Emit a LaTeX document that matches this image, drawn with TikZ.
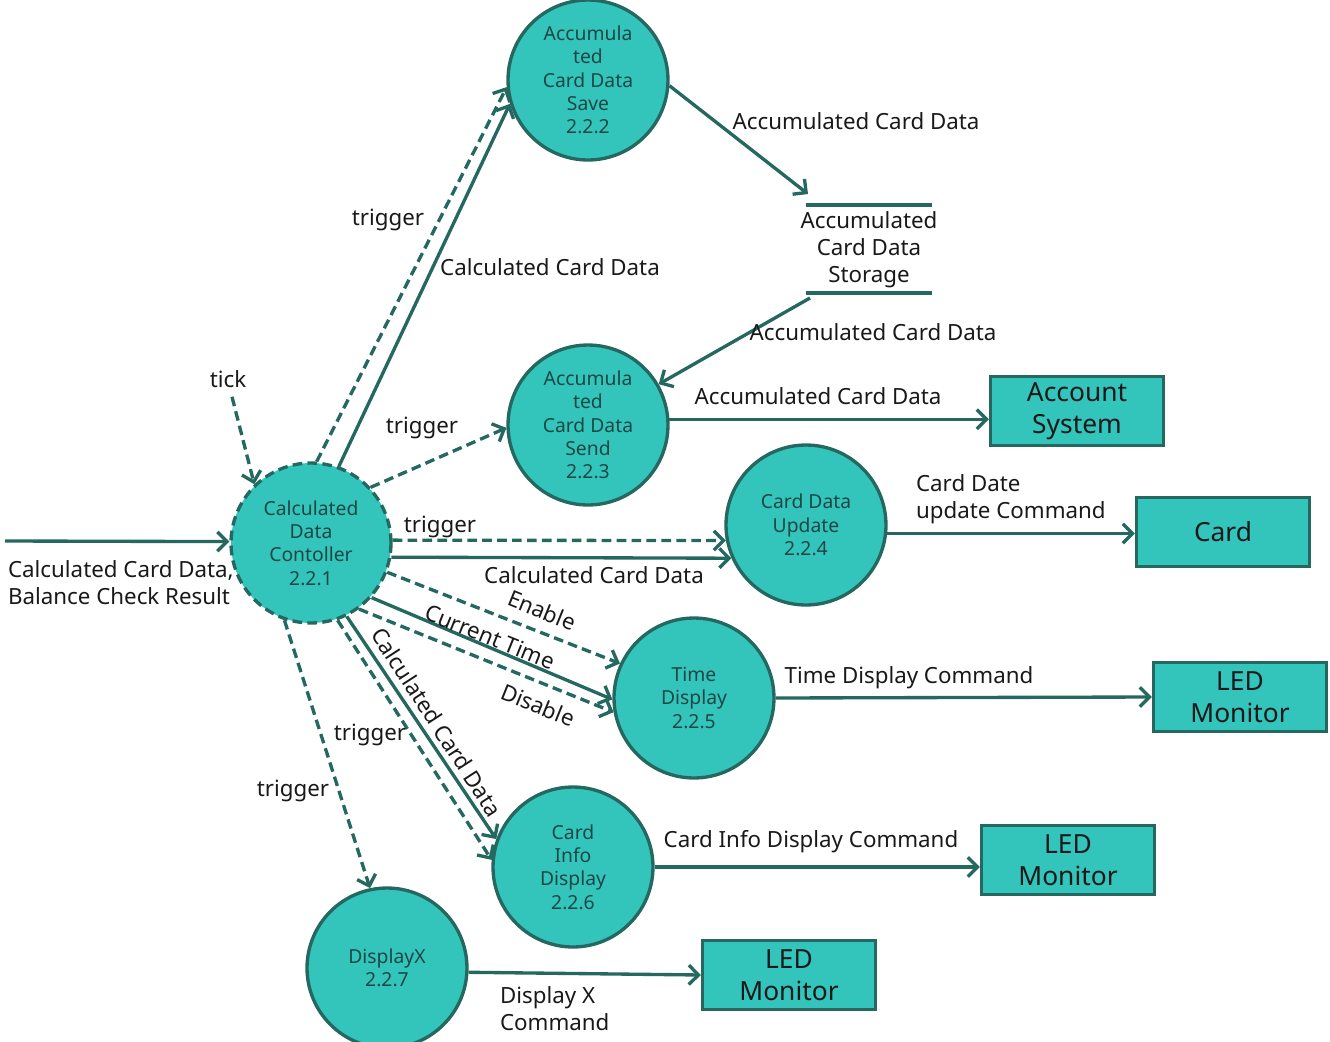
\documentclass[tikz,border=0pt]{standalone}
\usepackage{fontspec}
\setmainfont{Noto Sans}
\usetikzlibrary{arrows.meta}
\definecolor{tealfill}{RGB}{51,196,188}
\definecolor{tealline}{RGB}{36,104,96}
\definecolor{tealtext}{RGB}{28,72,68}
\tikzset{
  proc/.style={circle, draw=tealline, fill=tealfill, line width=1.9pt,
    minimum size=3.2cm, inner sep=0pt, align=center, text=tealtext,
    font=\fontsize{11}{13.3}\selectfont},
  ext/.style={rectangle, draw=tealline, fill=tealfill, line width=1.9pt,
    minimum width=3.46cm, minimum height=1.38cm, align=center, text=black!90,
    font=\fontsize{15}{18}\selectfont},
  lbl/.style={font=\fontsize{12.7}{15.3}\selectfont, inner sep=1pt, text=black!90},
  flow/.style={draw=tealline, line width=1.9pt, -{Straight Barb[length=5.5pt,width=11pt]}},
  trig/.style={flow, dash pattern=on 5.5pt off 3pt},
}
\begin{document}
\begin{tikzpicture}[x=0.02cm, y=-0.02cm]
\useasboundingbox (0,0) rectangle (1330,1042);

%画各个处理圆圈
\node[proc, dash pattern=on 5.5pt off 3pt] (ctrl) at (311,543) {Calculated\\Data\\Contoller\\2.2.1};
\node[proc] (save) at (588,80) {Accumula\\ted\\Card Data\\Save\\2.2.2};
\node[proc] (send) at (588,425) {Accumula\\ted\\Card Data\\Send\\2.2.3};
\node[proc] (update) at (806,525) {Card Data\\Update\\2.2.4};
\node[proc] (timedisp) at (694,698) {Time\\Display\\2.2.5};
\node[proc] (infodisp) at (573,867) {Card\\Info\\Display\\2.2.6};
\node[proc] (dispx) at (387,968) {DisplayX\\2.2.7};

%外部实体方框
\node[ext] (acct) at (1077,411) {Account\\System};
\node[ext] (card) at (1223,532) {Card};
\node[ext] (led1) at (1240,697) {LED\\Monitor};
\node[ext] (led2) at (1068,860) {LED\\Monitor};
\node[ext] (led3) at (789,975) {LED\\Monitor};

%数据存储
\node[lbl, align=center] (store) at (869,250) {Accumulated\\Card Data\\Storage};
\draw[tealline, line width=1.9pt] ([xshift=-1.26cm, yshift=0.9cm]store.center) -- ++(126,0);
\draw[tealline, line width=1.9pt] ([xshift=-1.26cm, yshift=-0.86cm]store.center) -- ++(126,0);

%输入和tick
\coordinate (in) at (5,541);
\draw[flow] (in) -- (ctrl.179);
\node[lbl, align=left, anchor=west] (inlbl) at (6,583) {Calculated Card Data,\\Balance Check Result};
\node[lbl, inner sep=5pt] (tick) at (228,379) {tick};
\draw[trig] ([xshift=0.08cm]tick.south) -- (ctrl.134);

%到2.2.2和存储
\draw[trig] (ctrl.86) -- (save.185);
\draw[flow] (ctrl.70) -- (save.197);
\node[lbl] (l1) at (388,220) {trigger};
\node[lbl] (l2) at (550,267) {Calculated Card Data};
\draw[flow] (save.-4) -- ([xshift=-1.22cm, yshift=1.12cm]store.center);
\node[lbl] (l3) at (856,121) {Accumulated Card Data};

%到2.2.3和Account System
\draw[flow] ([xshift=-1.18cm, yshift=-0.96cm]store.center) -- (send.30);
\node[lbl] (l4) at (873,332) {Accumulated Card Data};
\draw[trig] (ctrl.43) -- (send.182);
\node[lbl] (l5) at (422,428) {trigger};
\draw[flow] (send.4) -- (send.4 -| acct.west);
\node[lbl] (l6) at (818,396) {Accumulated Card Data};

%到2.2.4和Card
\draw[trig] (ctrl.2) -- (update.191);
\draw[flow] (ctrl.-10) -- (update.204);
\node[lbl] (l7) at (440,527) {trigger};
\node[lbl] (l8) at (594,575) {Calculated Card Data};
\draw[flow] (update.-6) -- (update.-6 -| card.west);
\node[lbl, align=left, anchor=west] (l9) at (914,499) {Card Date\\update Command};

%到2.2.5
\draw[trig] (ctrl.-21) -- (timedisp.155);
\draw[flow] (ctrl.-42) -- (timedisp.181);
\draw[trig] (ctrl.-54) -- (timedisp.190);
\node[lbl, rotate=-22] (l10) at (542,610) {Enable};
\node[lbl, rotate=-22] (l11) at (490,637) {Current Time};
\node[lbl, rotate=-22] (l12) at (538,705) {Disable};
\draw[flow] (timedisp.east) -- (led1.west);
\node[lbl] (l13) at (909,678) {Time Display Command};

%到2.2.6
\draw[trig] (ctrl.-71) -- (infodisp.175);
\draw[flow] (ctrl.-64) -- (infodisp.160);
\node[lbl, rotate=-57] (l14) at (437,722) {Calculated Card Data};
\node[lbl] (l15) at (370,735) {trigger};
\draw[flow] (infodisp.east) -- (infodisp.east -| led2.west);
\node[lbl] (l16) at (811,842) {Card Info Display Command};

%到2.2.7
\draw[trig] (ctrl.-109) -- (dispx.102);
\node[lbl] (l17) at (293,791) {trigger};
\draw[flow] (dispx.-3) -- (led3.west);
\node[lbl, align=left, anchor=west] (l18) at (498,1009) {Display X\\Command};

\end{tikzpicture}
\end{document}
